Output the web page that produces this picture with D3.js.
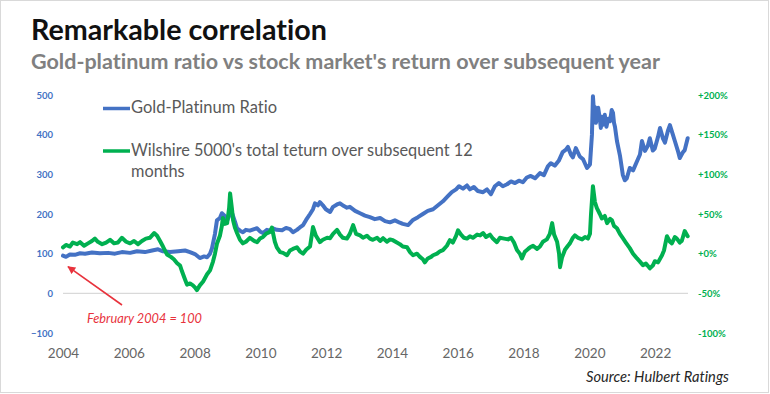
<!DOCTYPE html>
<html>
<head>
<meta charset="utf-8">
<script src="https://cdn.jsdelivr.net/npm/d3@7/dist/d3.min.js"></script>
<style>
  html, body { margin: 0; padding: 0; background: #fff; }
  svg { display: block; }
  text { font-variant-ligatures: none; }
</style>
</head>
<body>
<svg id="chart" width="770" height="394"></svg>
<script>
// ---------------- DATA ----------------
const titleText = "Remarkable correlation";
const subtitleText = "Gold-platinum ratio vs stock market's return over subsequent year";
const seriesNames = ["Gold-Platinum Ratio", "Wilshire 5000's total teturn over subsequent 12", "months"];
const yearTicks = [2004, 2006, 2008, 2010, 2012, 2014, 2016, 2018, 2020, 2022];
const leftTicks = [-100, 0, 100, 200, 300, 400, 500];
const rightTicks = [-100, -50, 0, 50, 100, 150, 200];

// Gold-platinum ratio (Feb 2004 = 100)
const ratioYears = [2004.00,2004.09,2004.21,2004.36,2004.52,2004.67,2004.88,2005.12,2005.37,2005.58,2005.79,2006.04,2006.25,2006.49,2006.71,2006.89,2007.04,2007.25,2007.50,2007.71,2007.86,2008.01,2008.16,2008.29,2008.38,2008.47,2008.53,2008.62,2008.68,2008.77,2008.83,2008.92,2008.99,2009.08,2009.14,2009.23,2009.29,2009.38,2009.47,2009.56,2009.68,2009.81,2009.90,2009.99,2010.08,2010.20,2010.29,2010.38,2010.50,2010.66,2010.78,2010.90,2010.99,2011.11,2011.20,2011.30,2011.39,2011.51,2011.60,2011.66,2011.75,2011.81,2011.90,2011.99,2012.12,2012.21,2012.33,2012.42,2012.54,2012.63,2012.72,2012.88,2013.03,2013.18,2013.33,2013.48,2013.64,2013.79,2013.94,2014.09,2014.24,2014.33,2014.49,2014.64,2014.79,2014.94,2015.09,2015.25,2015.40,2015.55,2015.70,2015.82,2015.95,2016.04,2016.16,2016.28,2016.37,2016.49,2016.61,2016.77,2016.89,2017.01,2017.13,2017.25,2017.37,2017.50,2017.62,2017.74,2017.86,2017.98,2018.10,2018.22,2018.35,2018.50,2018.62,2018.74,2018.83,2018.95,2019.07,2019.19,2019.29,2019.35,2019.44,2019.50,2019.59,2019.71,2019.81,2019.93,2020.02,2020.08,2020.11,2020.14,2020.17,2020.20,2020.23,2020.27,2020.32,2020.35,2020.38,2020.42,2020.47,2020.52,2020.57,2020.63,2020.68,2020.72,2020.75,2020.78,2020.84,2020.93,2021.02,2021.08,2021.14,2021.23,2021.33,2021.45,2021.54,2021.60,2021.69,2021.78,2021.84,2021.93,2021.99,2022.09,2022.15,2022.24,2022.30,2022.39,2022.45,2022.54,2022.60,2022.69,2022.75,2022.84,2022.90,2022.99];
const ratioValues = [95,92,98,97,101,100,103,101,102,100,104,102,106,104,108,111,106,104,106,108,104,99,89,93,91,100,114,150,184,190,202,195,184,200,202,180,164,158,154,160,158,162,164,156,152,160,158,164,160,159,165,162,154,160,166,172,185,200,212,227,222,230,222,212,205,218,224,227,220,216,218,208,202,196,192,187,190,182,179,184,178,175,172,185,192,200,208,212,222,232,245,255,262,270,264,272,262,268,258,255,262,250,270,278,270,275,282,278,284,280,292,296,290,303,298,320,328,322,334,356,362,369,350,343,366,345,338,316,325,400,497,460,470,430,442,468,440,417,445,425,450,420,440,434,462,455,430,420,384,348,298,285,290,316,310,333,350,384,359,372,391,360,365,395,417,390,380,410,424,400,384,360,341,355,361,391];

// Wilshire 5000 total return over subsequent 12 months (%)
const returnYears = [2004.00,2004.09,2004.21,2004.30,2004.43,2004.52,2004.64,2004.76,2004.88,2004.97,2005.06,2005.19,2005.31,2005.43,2005.55,2005.67,2005.79,2005.92,2006.04,2006.16,2006.28,2006.40,2006.52,2006.64,2006.77,2006.86,2006.95,2007.04,2007.16,2007.28,2007.37,2007.47,2007.56,2007.62,2007.71,2007.77,2007.86,2007.95,2008.01,2008.07,2008.16,2008.26,2008.38,2008.47,2008.56,2008.62,2008.68,2008.77,2008.83,2008.86,2008.92,2008.99,2009.05,2009.08,2009.14,2009.17,2009.23,2009.29,2009.38,2009.47,2009.56,2009.68,2009.81,2009.90,2009.99,2010.08,2010.17,2010.29,2010.35,2010.44,2010.50,2010.60,2010.69,2010.81,2010.90,2010.99,2011.11,2011.20,2011.30,2011.39,2011.51,2011.60,2011.69,2011.81,2011.90,2012.03,2012.12,2012.21,2012.33,2012.42,2012.51,2012.63,2012.72,2012.82,2012.91,2013.03,2013.12,2013.24,2013.33,2013.42,2013.55,2013.64,2013.73,2013.85,2013.94,2014.03,2014.15,2014.24,2014.33,2014.46,2014.55,2014.64,2014.76,2014.85,2014.94,2015.00,2015.09,2015.19,2015.25,2015.37,2015.46,2015.55,2015.67,2015.76,2015.85,2015.95,2016.01,2016.10,2016.19,2016.28,2016.37,2016.46,2016.59,2016.68,2016.77,2016.86,2016.98,2017.07,2017.19,2017.28,2017.41,2017.53,2017.62,2017.71,2017.80,2017.89,2017.95,2018.04,2018.14,2018.20,2018.29,2018.41,2018.50,2018.59,2018.71,2018.80,2018.87,2018.93,2019.02,2019.08,2019.11,2019.17,2019.26,2019.35,2019.41,2019.50,2019.56,2019.66,2019.78,2019.87,2019.96,2020.02,2020.05,2020.11,2020.17,2020.23,2020.32,2020.38,2020.47,2020.54,2020.63,2020.69,2020.75,2020.84,2020.93,2021.02,2021.11,2021.23,2021.33,2021.45,2021.54,2021.63,2021.72,2021.84,2021.93,2021.99,2022.09,2022.21,2022.27,2022.36,2022.45,2022.51,2022.60,2022.66,2022.75,2022.81,2022.90,2022.99];
const returnValues = [8,11,9,14,12,14.5,10,13,16,19,15,12,14,17.5,13,14,20,15,13,16,12,16,19,20,26,22.5,16,9,-1,-4,-7,-12,-15,-22.5,-32.5,-39,-37.5,-40,-42.5,-46,-40,-35,-26,-21,-10,0,12.5,22.5,35,45,37.5,38.5,57.5,76,55,42,32.5,26,17.5,13,15,20,16,14.5,19,21,25,27.5,33,15,8,2,1,-2,4,6,8,3,0,5,9,33.5,22.5,14.5,17.5,20,19.5,25,30,24,20,19,25,36,25,23,20,22.5,19,17.5,20,16,19.5,15,18,17,14,12,9,8,2,-2,0,-4,-7,-11,-6,-4,-2,0,3,4.5,10,17,14,22.5,29.5,24,20,19,22,20,24,23,26,21,24,19,14.5,20,19,18,20,14,4.5,0,-6,2.5,6,8,10,6,9,15,18,25,38.5,24,15,0,-17,-5,5,10,13,20,23,20,18,21,19,25,48.5,85,65,57.5,50,44.5,47.5,38.5,44,42,35,32,25,19.5,14,7,0,-6,-10,-14.5,-12.5,-18.5,-15,-9.5,-11,-2,4,22,15,13,21,19,14,16,28.5,22];

const annotationText = "February 2004 = 100";
const sourceText = "Source: Hulbert Ratings";

// ---------------- DRAW ----------------
const blue = "#4472C4", green = "#00B050";
const font = "Lato, 'Open Sans', 'DejaVu Sans', sans-serif";
const svg = d3.select("#chart");

svg.append("rect").attr("x", 0.5).attr("y", 0.5).attr("width", 768).attr("height", 392)
  .attr("fill", "#fff").attr("stroke", "#d9d9d9");

function fit(sel, target) {
  const w = sel.node().getComputedTextLength();
  const fs = parseFloat(sel.attr("font-size"));
  sel.attr("font-size", (fs * target / w).toFixed(2));
  return sel;
}

fit(svg.append("text").attr("x", 31).attr("y", 40).attr("font-family", font)
  .attr("font-weight", 700).attr("font-size", 28).attr("fill", "#111").text(titleText), 296);
fit(svg.append("text").attr("x", 31).attr("y", 69).attr("font-family", font)
  .attr("font-weight", 700).attr("font-size", 19).attr("fill", "#808080").text(subtitleText), 629);

const x = d3.scaleLinear().domain([2004, 2023]).range([63, 688]);
const yL = d3.scaleLinear().domain([-100, 500]).range([333, 95]);
const yR = d3.scaleLinear().domain([-100, 200]).range([333, 95]);

// zero gridline
svg.append("line").attr("x1", x(2004)).attr("x2", x(2023))
  .attr("y1", yL(0)).attr("y2", yL(0)).attr("stroke", "#d9d9d9").attr("stroke-width", 1.2);

// axes
const gL = svg.append("g").attr("transform", "translate(55,0)")
  .call(d3.axisLeft(yL).tickValues(leftTicks).tickSize(0).tickPadding(2));
gL.select(".domain").remove();
gL.selectAll("text").attr("font-family", font).attr("font-weight", 700)
  .attr("font-size", 9.5).attr("fill", blue);

const gR = svg.append("g").attr("transform", "translate(696,0)")
  .call(d3.axisRight(yR).tickValues(rightTicks).tickSize(0).tickPadding(2)
    .tickFormat(d => (d >= 0 ? "+" : "") + d + "%"));
gR.select(".domain").remove();
gR.selectAll("text").attr("font-family", font).attr("font-weight", 700)
  .attr("font-size", 9.5).attr("fill", green);

const gB = svg.append("g").attr("transform", "translate(0,340)")
  .call(d3.axisBottom(x).tickValues(yearTicks).tickSize(0).tickPadding(8).tickFormat(d3.format("d")));
gB.select(".domain").remove();
gB.selectAll("text").attr("font-family", font).attr("font-size", 13.5).attr("fill", "#666");

// lines
const ratioData = ratioYears.map((t, i) => ({ t, v: ratioValues[i] }));
const returnData = returnYears.map((t, i) => ({ t, v: returnValues[i] }));

svg.append("path").datum(ratioData)
  .attr("d", d3.line().x(d => x(d.t)).y(d => yL(d.v)))
  .attr("fill", "none").attr("stroke", blue).attr("stroke-width", 4)
  .attr("stroke-linejoin", "round").attr("stroke-linecap", "round");

svg.append("path").datum(returnData)
  .attr("d", d3.line().x(d => x(d.t)).y(d => yR(d.v)))
  .attr("fill", "none").attr("stroke", green).attr("stroke-width", 4)
  .attr("stroke-linejoin", "round").attr("stroke-linecap", "round");

// legend
const leg = svg.append("g");
leg.append("line").attr("x1", 103).attr("x2", 130).attr("y1", 108.5).attr("y2", 108.5)
  .attr("stroke", blue).attr("stroke-width", 3.5);
fit(leg.append("text").attr("x", 131).attr("y", 113).attr("font-family", font)
  .attr("font-size", 15).attr("fill", "#595959").text(seriesNames[0]), 146);
leg.append("line").attr("x1", 103).attr("x2", 130).attr("y1", 151).attr("y2", 151)
  .attr("stroke", green).attr("stroke-width", 3.5);
const l2 = fit(leg.append("text").attr("x", 131).attr("y", 156).attr("font-family", font)
  .attr("font-size", 15).attr("fill", "#595959").text(seriesNames[1]), 342);
leg.append("text").attr("x", 131).attr("y", 177).attr("font-family", font)
  .attr("font-size", l2.attr("font-size")).attr("fill", "#595959").text(seriesNames[2]);

// annotation
const red = "#E8323C";
svg.append("defs").append("marker").attr("id", "arr").attr("viewBox", "0 0 10 10")
  .attr("refX", 9).attr("refY", 5).attr("markerWidth", 5).attr("markerHeight", 5)
  .attr("orient", "auto").append("path").attr("d", "M0,0L10,5L0,10z").attr("fill", red);
svg.append("line").attr("x1", 122).attr("y1", 305).attr("x2", x(2004) + 5).attr("y2", yL(100) + 13)
  .attr("stroke", red).attr("stroke-width", 1.6).attr("marker-end", "url(#arr)");
fit(svg.append("text").attr("x", 87).attr("y", 323).attr("font-family", font)
  .attr("font-style", "italic").attr("font-size", 13).attr("fill", red).text(annotationText), 115);

// source
fit(svg.append("text").attr("x", 586).attr("y", 382).attr("font-family", font)
  .attr("font-style", "italic").attr("font-size", 14).attr("fill", "#262626").text(sourceText), 143);
</script>
</body>
</html>
